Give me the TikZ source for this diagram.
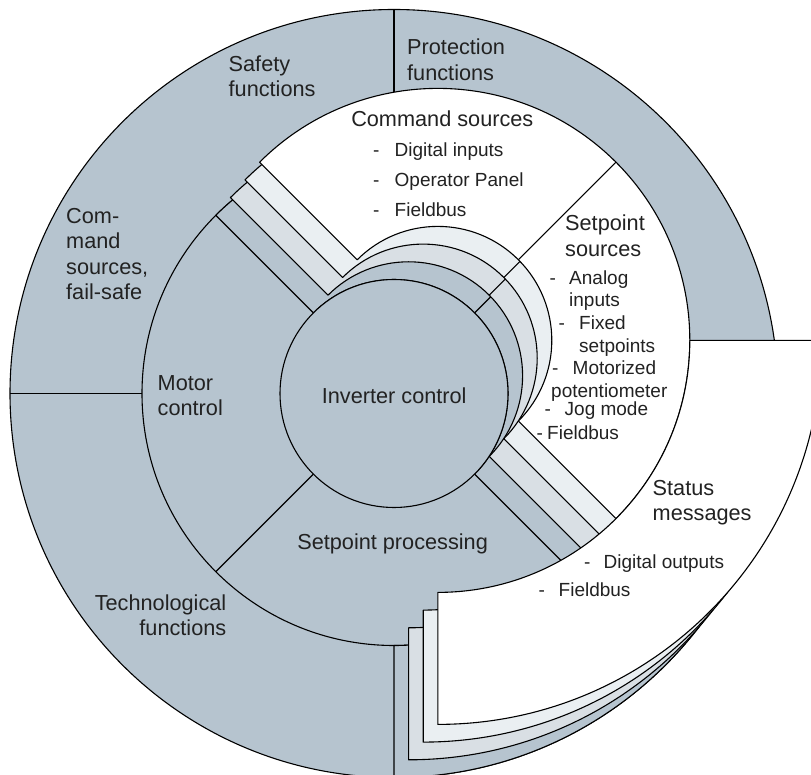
\documentclass[tikz,border=0pt]{standalone}
\usepackage{fontspec}
\setmainfont{Liberation Sans}
\usetikzlibrary{calc}
\definecolor{ringgray}{HTML}{B6C4CF}
\definecolor{layerA}{HTML}{D9DFE4}
\definecolor{layerB}{HTML}{EAEFF2}
\definecolor{txt}{HTML}{222222}
\tikzset{
  outline/.style={draw=black, line width=1.1pt, line join=round},
  head/.style={inner sep=0pt, text=txt, font=\fontsize{21.7}{26}\selectfont},
  item/.style={inner sep=0pt, text=txt, font=\fontsize{19}{22}\selectfont},
}
\newcommand\pagelayer[2]{%
  \path[outline, fill=#2] ($(#1)+(135:252pt)$) arc[start angle=135, end angle=-45, radius=252pt]
     -- ($(#1)+(-45:114pt)$) arc[start angle=-45, end angle=135, radius=114pt] -- cycle;
  \draw[outline] ($(#1)+(45:114pt)$) -- ($(#1)+(45:252pt)$);
  \path[outline, fill=#2] ($(#1)+(0:252pt)$) -- ($(#1)+(0:384pt)$)
     arc[start angle=0, end angle=-90, radius=384pt]
     -- ($(#1)+(-90:252pt)$) arc[start angle=-90, end angle=0, radius=252pt] -- cycle;
}
\newcommand\dashitem[2]{\makebox[#1pt][l]{-}#2}
\begin{document}
\begin{tikzpicture}[x=1pt,y=1pt]
\useasboundingbox (0,0) rectangle (811,774);
\clip (0,0) rectangle (811,774);
\coordinate (C0) at (394,380.5);
\coordinate (C1) at (408.6,398.2);
\coordinate (C2) at (423.2,415.9);
\coordinate (C3) at (437.8,433.6);
% outer ring
\path[outline, fill=ringgray] (C0) circle[radius=384pt];
\draw[outline] ($(C0)+(90:252pt)$) -- ($(C0)+(90:384pt)$);
\draw[outline] ($(C0)+(180:252pt)$) -- ($(C0)+(180:384pt)$);
% base ring
\path[outline, fill=ringgray] (C0) circle[radius=252pt];
\draw[outline] ($(C0)+(225:114pt)$) -- ($(C0)+(225:252pt)$);
\pagelayer{C0}{ringgray}
\path[outline, fill=ringgray] (C0) circle[radius=114pt];
% stacked pages
\pagelayer{C1}{layerA}
\pagelayer{C2}{layerB}
\pagelayer{C3}{white}
% texts
\begin{scope}[yshift=-5pt]
\node[head, anchor=mid west] (safety1) at (228.5,709.8) {Safety};
\node[head, anchor=mid west] (safety2) at (228.5,684.7) {functions};
\node[head, anchor=mid west] (prot1) at (407,727.1) {Protection};
\node[head, anchor=mid west] (prot2) at (407,701) {functions};
\node[head, anchor=mid] (cmd) at (442.3,655.5) {Command sources};
\node[item, anchor=mid west] (cmd1) at (373,624.9) {\dashitem{21.5}{Digital inputs}};
\node[item, anchor=mid west] (cmd2) at (373,595.3) {\dashitem{21.5}{Operator Panel}};
\node[item, anchor=mid west] (cmd3) at (373,565.2) {\dashitem{21.5}{Fieldbus}};
\node[head, anchor=mid west] (sps1) at (565,550.9) {Setpoint};
\node[head, anchor=mid west] (sps2) at (565,524.7) {sources};
\node[item, anchor=mid west] (sp1) at (549.5,497) {\dashitem{19.5}{Analog}};
\node[item, anchor=mid west] (sp1b) at (569,475.4) {inputs};
\node[item, anchor=mid west] (sp2) at (558.5,452.3) {\dashitem{20.5}{Fixed}};
\node[item, anchor=mid west] (sp2b) at (579,429) {setpoints};
\node[item, anchor=mid west] (sp3) at (552,406.7) {\dashitem{20.5}{Motorized}};
\node[item, anchor=mid west] (sp3b) at (551,384) {potentiometer};
\node[item, anchor=mid west] (sp4) at (544.5,366) {\dashitem{20}{Jog mode}};
\node[item, anchor=mid west] (sp5) at (536.5,342.3) {\dashitem{10.5}{Fieldbus}};
\node[head, anchor=mid west] (stat1) at (652.5,285.7) {Status};
\node[head, anchor=mid west] (stat2) at (652.5,260.7) {messages};
\node[item, anchor=mid west] (st1) at (584,213.3) {\dashitem{19.5}{Digital outputs}};
\node[item, anchor=mid west] (st2) at (538.5,184.7) {\dashitem{20}{Fieldbus}};
\node[head, anchor=mid west] (cfs1) at (66,558.3) {Com-};
\node[head, anchor=mid west] (cfs2) at (66,533.1) {mand};
\node[head, anchor=mid west] (cfs3) at (66,507.5) {sources,};
\node[head, anchor=mid west] (cfs4) at (66,481.8) {fail-safe};
\node[head, anchor=mid west] (mot1) at (157.5,390.7) {Motor};
\node[head, anchor=mid west] (mot2) at (157.5,365.7) {control};
\node[head, anchor=mid] (inv) at (394.2,378) {Inverter control};
\node[head, anchor=mid] (spp) at (392.6,232) {Setpoint processing};
\node[head, anchor=mid east] (tech1) at (226.5,170.8) {Technological};
\node[head, anchor=mid east] (tech2) at (226.5,146.2) {functions};
\end{scope}
\end{tikzpicture}
\end{document}
